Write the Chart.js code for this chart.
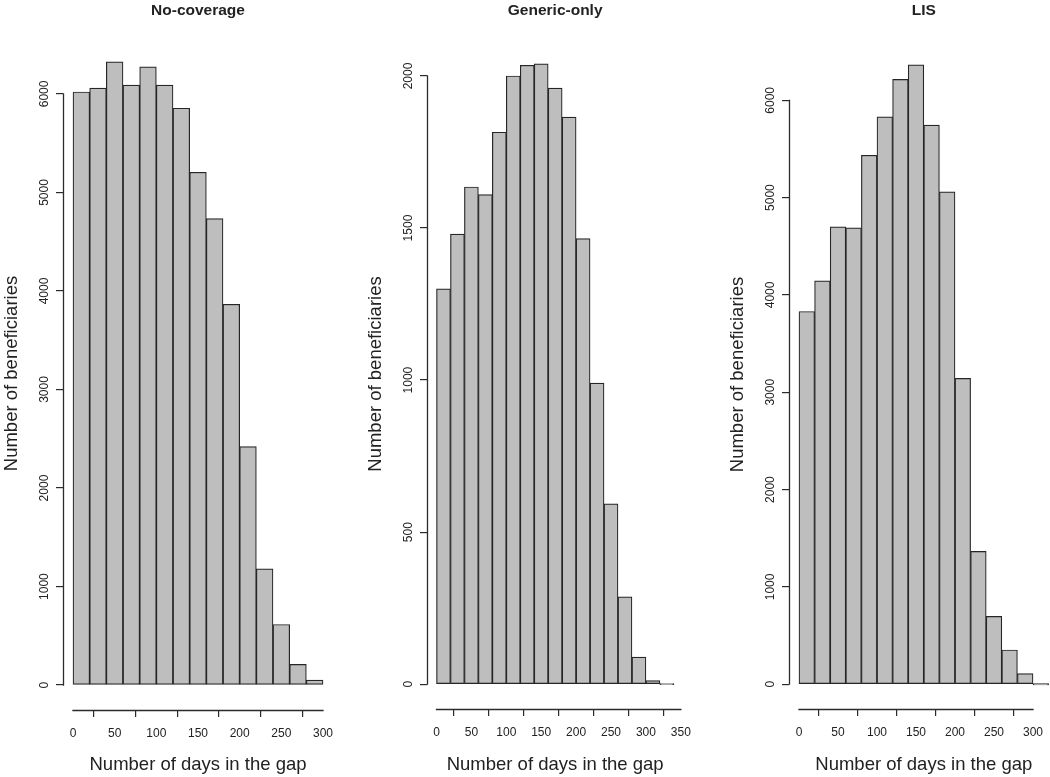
<!DOCTYPE html>
<html>
<head>
<meta charset="utf-8">
<script src="https://cdn.jsdelivr.net/npm/chart.js@4.4.1/dist/chart.umd.min.js"></script>
<style>
  html, body { margin: 0; padding: 0; background: #fff; overflow: hidden; width: 1050px; height: 777px; }
  canvas { position: absolute; top: 0; }
</style>
</head>
<body>
<canvas id="c1" width="350" height="777" style="left:0px"></canvas>
<canvas id="c2" width="350" height="777" style="left:350px"></canvas>
<canvas id="c3" width="360" height="777" style="left:700px"></canvas>
<script>
// ---- Data (histograms of days in the coverage gap, bin width 20 days) ----
const panelTitles = ["No-coverage", "Generic-only", "LIS"];

const binStartsNoCov   = [0, 20, 40, 60, 80, 100, 120, 140, 160, 180, 200, 220, 240, 260, 280];
const countsNoCov      = [6020, 6060, 6325, 6090, 6275, 6090, 5855, 5205, 4735, 3865, 2420, 1180, 615, 210, 50];

const binStartsGeneric = [0, 20, 40, 60, 80, 100, 120, 140, 160, 180, 200, 220, 240, 260, 280, 300, 320];
const countsGeneric    = [1300, 1480, 1635, 1610, 1815, 2000, 2035, 2040, 1960, 1865, 1465, 990, 593, 287, 89, 12, 0];

const binStartsLIS     = [0, 20, 40, 60, 80, 100, 120, 140, 160, 180, 200, 220, 240, 260, 280, 300];
const countsLIS        = [3830, 4145, 4700, 4690, 5435, 5830, 6215, 6365, 5745, 5060, 3142, 1365, 697, 352, 110, 0];

const binWidth = 20;

const xTicksNoCov   = [0, 50, 100, 150, 200, 250, 300];
const xTicksGeneric = [0, 50, 100, 150, 200, 250, 300, 350];
const xTicksLIS     = [0, 50, 100, 150, 200, 250, 300];

const yTicksNoCov   = [0, 1000, 2000, 3000, 4000, 5000, 6000];
const yTicksGeneric = [0, 500, 1000, 1500, 2000];
const yTicksLIS     = [0, 1000, 2000, 3000, 4000, 5000, 6000];

const xLabel = "Number of days in the gap";
const yLabel = "Number of beneficiaries";

// ---- Rendering ----
const FONT = '"Liberation Sans", Arial, Helvetica, sans-serif';
const AXIS_COLOR = '#2b2b2b';
const TEXT_COLOR = '#222222';

// R-style axes: line only spans first..last tick
const rAxisPlugin = {
  id: 'rAxis',
  afterDraw(chart) {
    const ctx = chart.ctx;
    const xs = chart.scales.x, ys = chart.scales.y;
    const ca = chart.chartArea;
    ctx.save();
    ctx.strokeStyle = AXIS_COLOR;
    ctx.lineWidth = 1.3;
    ctx.lineCap = 'square';
    const xt = xs.ticks;
    const yb = Math.round(ca.bottom) + 0.5;
    ctx.beginPath();
    ctx.moveTo(xs.getPixelForValue(xt[0].value), yb);
    ctx.lineTo(xs.getPixelForValue(xt[xt.length - 1].value), yb);
    ctx.stroke();
    const yt = ys.ticks;
    const xl = Math.round(ca.left) + 0.5;
    ctx.beginPath();
    ctx.moveTo(xl, ys.getPixelForValue(yt[0].value));
    ctx.lineTo(xl, ys.getPixelForValue(yt[yt.length - 1].value));
    ctx.stroke();
    ctx.restore();
  }
};

function makePanel(id, p) {
  const data = p.starts.map((s, i) => ({ x: s + binWidth / 2, y: p.counts[i] }));
  const maxCount = Math.max(...p.counts);
  const yPad = maxCount * 0.04;
  const lastEdge = p.starts[p.starts.length - 1] + binWidth;
  const xPad = lastEdge * 0.04;
  return new Chart(document.getElementById(id), {
    type: 'bar',
    data: {
      datasets: [{
        data: data,
        backgroundColor: '#bebebe',
        borderColor: '#262626',
        borderWidth: 1.2,
        borderSkipped: false,
        barPercentage: 1,
        categoryPercentage: 1,
        minBarLength: 1.2
      }]
    },
    options: {
      responsive: false,
      animation: false,
      devicePixelRatio: 1,
      layout: { padding: { left: p.padLeft, right: p.padRight, top: 1, bottom: 0 } },
      plugins: {
        legend: { display: false },
        tooltip: { enabled: false },
        title: {
          display: true,
          text: p.title,
          fullSize: false,
          color: TEXT_COLOR,
          font: { family: FONT, size: 15.5, weight: 'bold' },
          padding: { top: 0, bottom: p.titleGap }
        }
      },
      scales: {
        x: {
          type: 'linear',
          min: -xPad,
          max: lastEdge + xPad,
          offset: false,
          afterBuildTicks(scale) { scale.ticks = p.xTicks.map(v => ({ value: v })); },
          afterFit(scale) { scale.height = p.xHeight; },
          ticks: {
            autoSkip: false, maxRotation: 0, minRotation: 0,
            padding: 9,
            color: TEXT_COLOR,
            font: { family: FONT, size: 12 },
            callback: v => String(v)
          },
          grid: { display: true, drawOnChartArea: false, drawTicks: true, tickLength: 7, color: AXIS_COLOR, lineWidth: 1.2 },
          border: { display: false },
          title: {
            display: true, text: xLabel, color: TEXT_COLOR,
            font: { family: FONT, size: 18.5 },
            padding: { top: 0, bottom: 1 }
          }
        },
        y: {
          type: 'linear',
          min: -yPad,
          max: maxCount + yPad,
          afterBuildTicks(scale) { scale.ticks = p.yTicks.map(v => ({ value: v })); },
          afterFit(scale) { scale.width = 63; },
          ticks: {
            autoSkip: false, minRotation: 90, maxRotation: 90,
            crossAlign: 'center',
            padding: -2,
            color: TEXT_COLOR,
            font: { family: FONT, size: 12 },
            callback: v => String(v)
          },
          grid: { display: true, drawOnChartArea: false, drawTicks: true, tickLength: 7, color: AXIS_COLOR, lineWidth: 1.2 },
          border: { display: false },
          title: {
            display: true, text: yLabel, color: TEXT_COLOR,
            font: { family: FONT, size: 18.5 },
            padding: { top: 1, bottom: 0 }
          }
        }
      }
    },
    plugins: [rAxisPlugin]
  });
}

makePanel('c1', { title: panelTitles[0], starts: binStartsNoCov, counts: countsNoCov,
  xTicks: xTicksNoCov, yTicks: yTicksNoCov, padLeft: 0, padRight: 17, titleGap: 17.4, xHeight: 67 });
makePanel('c2', { title: panelTitles[1], starts: binStartsGeneric, counts: countsGeneric,
  xTicks: xTicksGeneric, yTicks: yTicksGeneric, padLeft: 14, padRight: 5.4, titleGap: 19.4, xHeight: 68 });
makePanel('c3', { title: panelTitles[2], starts: binStartsLIS, counts: countsLIS,
  xTicks: xTicksLIS, yTicks: yTicksLIS, padLeft: 26, padRight: 1.4, titleGap: 20.4, xHeight: 68 });
</script>
</body>
</html>
